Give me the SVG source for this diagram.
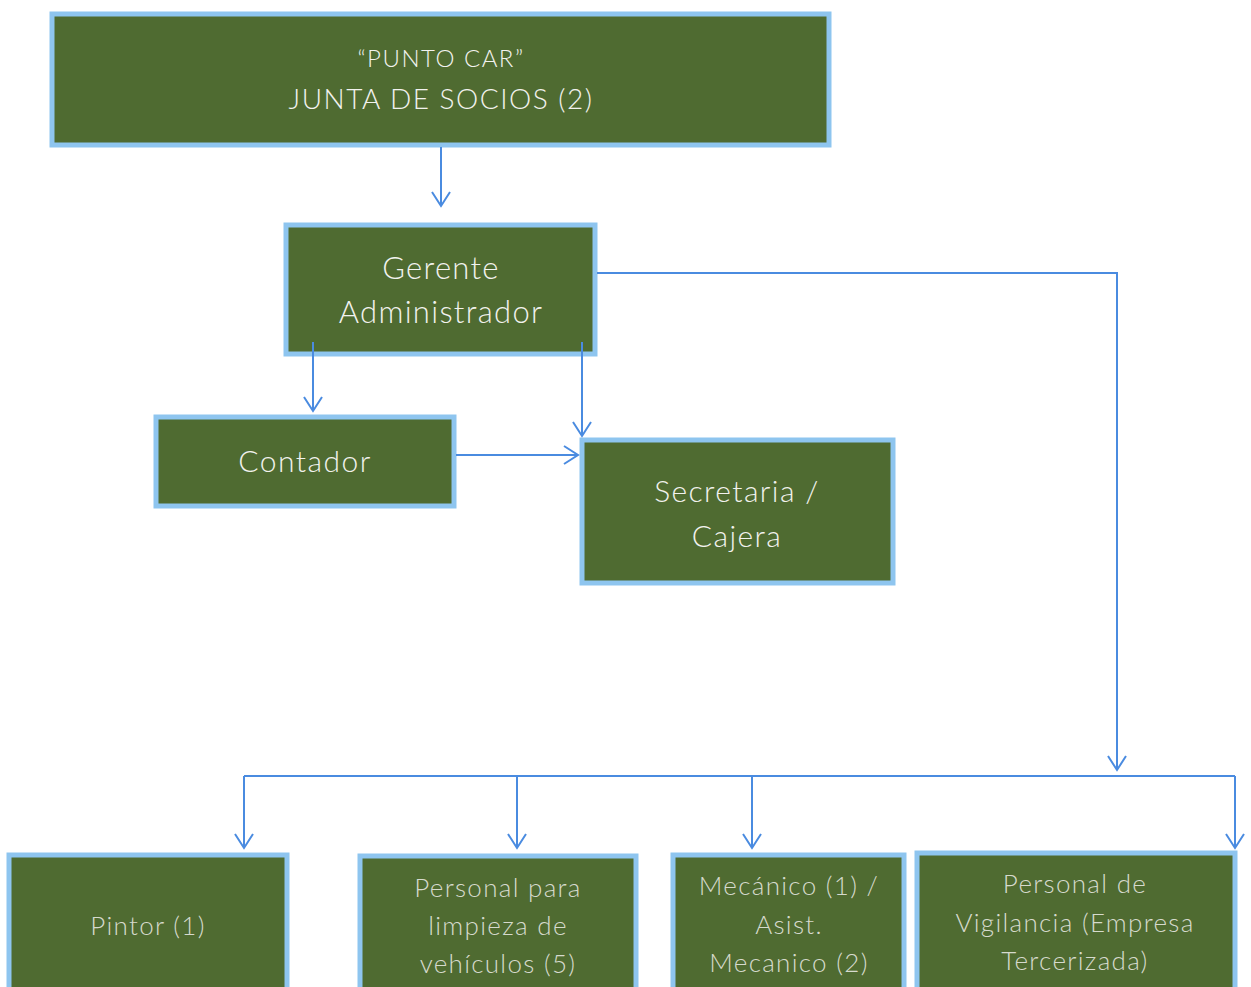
<svg xmlns="http://www.w3.org/2000/svg" width="1251" height="987" viewBox="0 0 1251 987">
<defs>
<style>
.box{fill:#4f6b31;stroke:#8ec5ef;stroke-width:5}
.t{fill:#f2f2ee;font-family:Lato,"Open Sans",sans-serif;font-weight:300;text-anchor:middle}
.tb{fill:#d6dacd;font-family:Lato,"Open Sans",sans-serif;font-weight:300;text-anchor:middle;font-size:26px;letter-spacing:1.3px}
.c{fill:none;stroke:#4a8be0;stroke-width:2}
</style>
<marker id="ah" viewBox="0 0 20 20" refX="18" refY="10" markerWidth="20" markerHeight="20" markerUnits="userSpaceOnUse" orient="auto">
<path d="M4,1 L18,10 L4,19" fill="none" stroke="#4a8be0" stroke-width="2"/>
</marker>
</defs>
<rect width="1251" height="987" fill="#ffffff"/>
<g id="junta">
<rect class="box" x="52" y="14" width="777" height="131"/>
<text class="t" x="441" y="67" font-size="24" letter-spacing="1.5">“PUNTO CAR”</text>
<text class="t" x="441" y="109" font-size="28" letter-spacing="1.5">JUNTA DE SOCIOS (2)</text>
</g>
<g id="gerente">
<rect class="box" x="286" y="225" width="309" height="129"/>
<text class="t" x="441" y="279" font-size="31" letter-spacing="1.3">Gerente</text>
<text class="t" x="441" y="323" font-size="31" letter-spacing="1.3">Administrador</text>
</g>
<g id="contador">
<rect class="box" x="156" y="417" width="298" height="89"/>
<text class="t" x="305" y="472" font-size="30" letter-spacing="1.5">Contador</text>
</g>
<g id="secretaria">
<rect class="box" x="582" y="440" width="311" height="143"/>
<text class="t" x="737" y="502" font-size="30" letter-spacing="1.4">Secretaria /</text>
<text class="t" x="737" y="547" font-size="30" letter-spacing="1.4">Cajera</text>
</g>
<g id="pintor">
<rect class="box" x="9" y="855" width="278" height="140"/>
<text class="tb" x="148" y="935">Pintor (1)</text>
</g>
<g id="limpieza">
<rect class="box" x="360" y="856" width="276" height="140"/>
<text class="tb" x="498" y="897">Personal para</text>
<text class="tb" x="498" y="935">limpieza de</text>
<text class="tb" x="498" y="973">vehículos (5)</text>
</g>
<g id="mecanico">
<rect class="box" x="673" y="855" width="231" height="140"/>
<text class="tb" x="789" y="895">Mecánico (1) /</text>
<text class="tb" x="789" y="934">Asist.</text>
<text class="tb" x="789" y="972">Mecanico (2)</text>
</g>
<g id="vigilancia">
<rect class="box" x="917" y="853" width="318" height="142"/>
<text class="tb" x="1075" y="893">Personal de</text>
<text class="tb" x="1075" y="932">Vigilancia (Empresa</text>
<text class="tb" x="1075" y="970">Tercerizada)</text>
</g>
<g id="connectors">
<path class="c" d="M441,147 V206" marker-end="url(#ah)"/>
<path class="c" d="M313,342 V411" marker-end="url(#ah)"/>
<path class="c" d="M582,342 V436" marker-end="url(#ah)"/>
<path class="c" d="M456,455 H578" marker-end="url(#ah)"/>
<path class="c" d="M597,273 H1117 V770" marker-end="url(#ah)"/>
<path class="c" d="M244,776 H1235"/>
<path class="c" d="M244,776 V848" marker-end="url(#ah)"/>
<path class="c" d="M517,776 V848" marker-end="url(#ah)"/>
<path class="c" d="M752,776 V848" marker-end="url(#ah)"/>
<path class="c" d="M1235,776 V848" marker-end="url(#ah)"/>
</g>
</svg>
